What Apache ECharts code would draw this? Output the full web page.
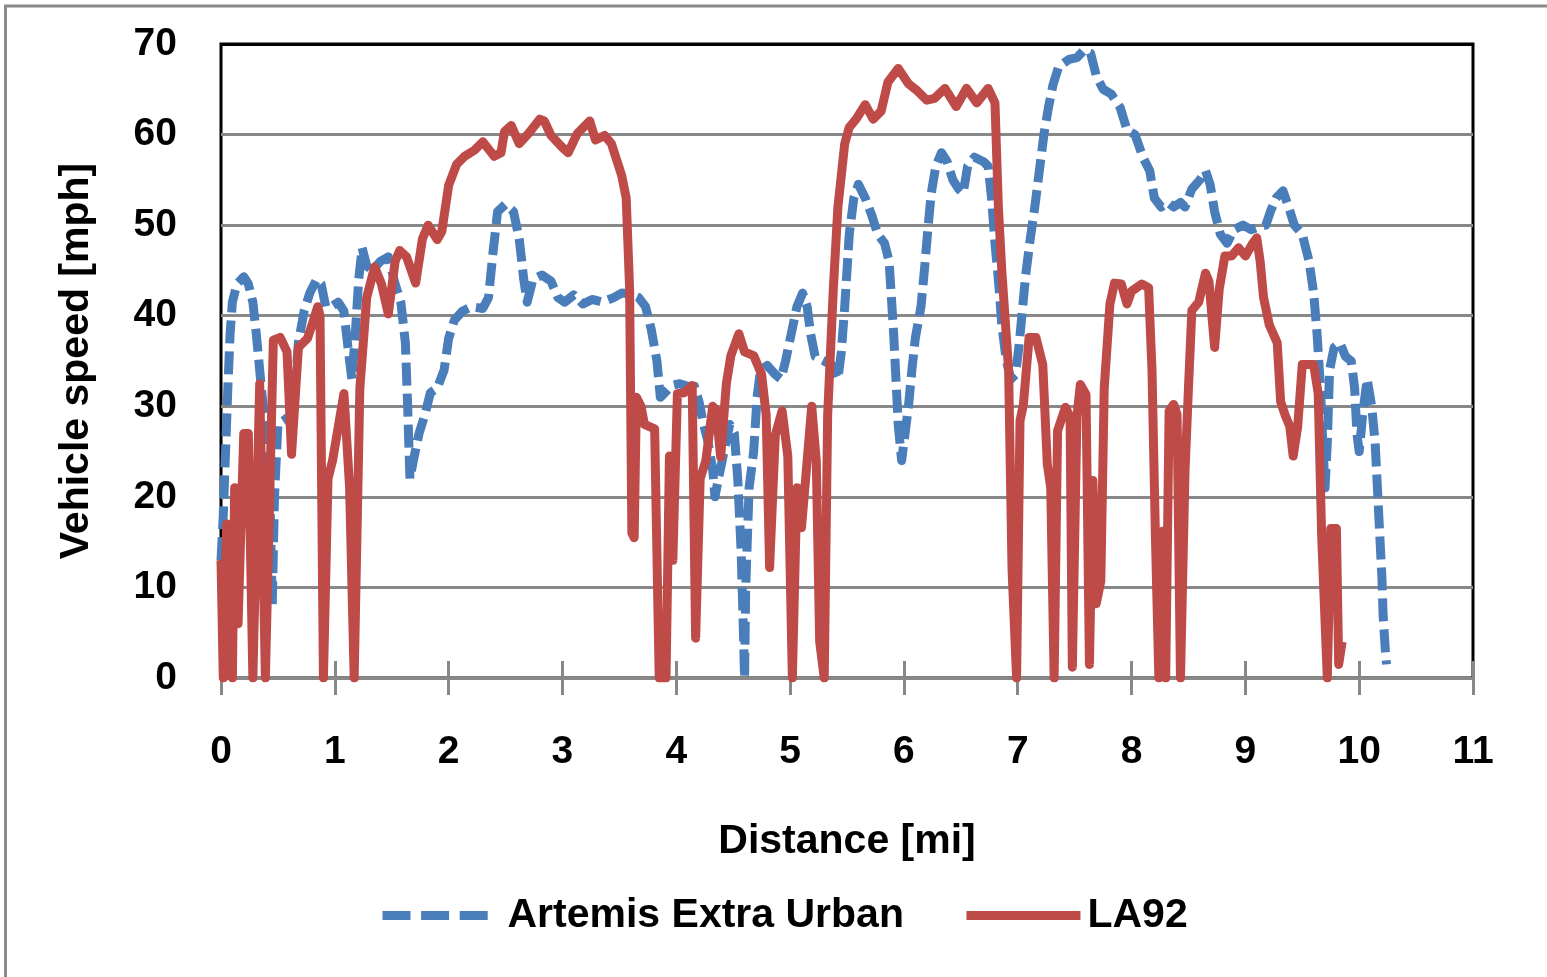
<!DOCTYPE html>
<html>
<head>
<meta charset="utf-8">
<script src="https://cdn.jsdelivr.net/npm/echarts@6/dist/echarts.min.js"></script>
<style>
html,body{margin:0;padding:0;background:#fff;}
#chart{width:1547px;height:977px;}
</style>
</head>
<body>
<div id="chart"></div>
<script>
// Artemis Extra Urban: distance [mi] and speed [mph]
const artDist = [0,0.02,0.04,0.06,0.08,0.1,0.14,0.2,0.24,0.28,0.31,0.34,0.37,0.42,0.45,0.47,0.5,0.56,0.61,0.65,0.68,0.73,0.78,0.84,0.88,0.92,0.97,1.03,1.08,1.12,1.15,1.18,1.21,1.24,1.28,1.33,1.4,1.47,1.53,1.58,1.62,1.64,1.66,1.69,1.74,1.79,1.84,1.9,1.96,2.0,2.05,2.12,2.2,2.3,2.35,2.39,2.43,2.5,2.57,2.62,2.66,2.69,2.74,2.82,2.9,2.96,3.02,3.1,3.18,3.26,3.35,3.45,3.52,3.6,3.67,3.73,3.78,3.83,3.86,3.9,3.96,4.03,4.1,4.16,4.2,4.24,4.28,4.32,4.34,4.37,4.42,4.47,4.51,4.54,4.57,4.59,4.6,4.61,4.64,4.68,4.71,4.74,4.8,4.87,4.92,4.96,5.01,5.06,5.11,5.15,5.18,5.22,5.3,5.37,5.42,5.45,5.48,5.5,5.52,5.56,5.6,5.66,5.72,5.77,5.83,5.87,5.89,5.91,5.93,5.95,5.98,6.01,6.04,6.07,6.1,6.15,6.18,6.21,6.24,6.28,6.33,6.38,6.43,6.48,6.52,6.56,6.62,6.7,6.74,6.77,6.8,6.83,6.86,6.9,6.94,6.98,7.01,7.04,7.07,7.11,7.15,7.19,7.23,7.27,7.31,7.36,7.45,7.52,7.58,7.64,7.69,7.75,7.82,7.9,7.96,8.03,8.1,8.16,8.2,8.26,8.32,8.37,8.43,8.47,8.53,8.6,8.65,8.69,8.73,8.78,8.84,8.9,8.98,9.05,9.12,9.18,9.22,9.27,9.33,9.38,9.43,9.5,9.56,9.6,9.63,9.66,9.68,9.7,9.72,9.74,9.78,9.83,9.88,9.93,9.96,9.98,10.0,10.03,10.07,10.11,10.14,10.16,10.18,10.2,10.21,10.23,10.24];
const artSpeed = [13,18,25,32,38,41.5,43.5,44.3,43.5,41.5,38,34,30,26,8,20,28,28.5,29,32,37,40.5,42.5,44,43.5,41,41,41.5,40.5,36,33,38,44,47.5,45.5,45,46,46.5,43.5,41.5,37,30,22,24,27,29,31.5,32,34,37.5,39.5,40.5,41,40.8,42,47,51.5,52.3,51.5,48.5,44,41.5,44,44.5,43.8,42,41.5,42.3,41.3,41.8,41.5,42,42.5,42.4,42,41,38.5,35,31,31.5,32.3,32.5,32.2,32.2,30.5,28,26,23,20,22,25,28,27,22,14,5,0,10,21,25,31,34,34.5,33.5,33,35,38,41,42.5,41,38,35.5,35,34.5,33,36,41,45,49,53,54.5,53,51,49,48,46,42,38,33,28,24,27,30,34,37.5,41,45,49.5,53.5,56.5,58,57,55,54,53.5,56.5,57.5,57,56.5,53,48,44,39,35,33,33.5,36.5,40.5,44.5,48.5,52,56,60,63,65.5,67.5,68.3,68.5,69.3,69,66.5,65,64.5,63,60.5,60,57.5,56,53,52,52.5,52,52.5,52,54,55,56,54.5,51.5,49,48,49.5,50,49.5,49.8,50,51.5,53,53.8,52,50,49,46,42.5,38,32,26,21,26,34,36.5,37,35.5,35,32,27,25,29,33,30,26,21,16,11,7,3,1.5];

// LA92: distance [mi] and speed [mph]
const laDist = [0,0.02,0.05,0.1,0.12,0.15,0.2,0.24,0.28,0.34,0.39,0.46,0.52,0.58,0.62,0.68,0.76,0.8,0.85,0.87,0.9,0.94,0.98,1.08,1.13,1.17,1.22,1.28,1.35,1.41,1.47,1.53,1.57,1.63,1.71,1.77,1.82,1.9,1.94,2.0,2.07,2.14,2.23,2.3,2.4,2.46,2.49,2.55,2.62,2.7,2.8,2.84,2.9,2.99,3.05,3.13,3.24,3.29,3.37,3.43,3.52,3.56,3.59,3.61,3.63,3.65,3.69,3.72,3.81,3.85,3.91,3.94,3.97,4.01,4.07,4.14,4.17,4.21,4.26,4.32,4.35,4.39,4.44,4.48,4.55,4.6,4.68,4.75,4.79,4.82,4.87,4.93,4.98,5.02,5.06,5.1,5.14,5.19,5.23,5.26,5.3,5.33,5.38,5.42,5.48,5.52,5.58,5.66,5.73,5.8,5.86,5.95,6.04,6.12,6.2,6.27,6.36,6.46,6.55,6.64,6.74,6.8,6.83,6.86,6.92,6.95,6.99,7.02,7.05,7.1,7.16,7.22,7.26,7.29,7.32,7.35,7.42,7.46,7.48,7.52,7.55,7.6,7.63,7.66,7.69,7.73,7.76,7.81,7.85,7.91,7.96,8.0,8.09,8.15,8.18,8.21,8.24,8.27,8.3,8.33,8.37,8.4,8.43,8.47,8.5,8.53,8.59,8.65,8.68,8.73,8.77,8.82,8.88,8.94,9.0,9.06,9.1,9.13,9.16,9.21,9.28,9.31,9.35,9.39,9.42,9.46,9.5,9.6,9.64,9.67,9.72,9.75,9.8,9.82,9.85];
const laSpeed = [13,0,17,0,21,6,27,27,0,32.5,0,37.3,37.6,36,24.7,36.5,37.5,39,41,40,0,22,24,31.4,21,0,32,42,45.4,43.5,40.2,46,47.2,46.5,43.6,48.5,50,48.4,49.3,54.4,56.7,57.6,58.3,59.2,57.6,58,60.3,61,59,60.1,61.7,61.5,59.9,58.7,58,60.1,61.5,59.4,59.9,59,55.5,53,43,16,15.5,31,30,28,27.5,0,0,24.5,13,31.4,31.5,32.3,4.4,22,24,30,29.6,24.4,32.5,35.6,38,36,35.6,33.5,29,12.2,26.8,29.5,24.5,0,21,16.6,22.5,30,24,4,0,29,43,52,59,60.8,61.7,63.3,61.7,62.6,65.8,67.3,65.6,64.8,63.8,64,65.1,63.1,65.1,63.5,65.1,63.5,52,45,34,12,0,28.4,30.2,37.6,37.6,34.6,23.6,21,0,27.3,29.9,28.8,1.2,28.8,32.4,31.3,1.5,21.8,8.2,10.7,32,41.3,43.6,43.5,41.3,42.7,43.5,43.1,33.9,15.5,0,16.2,0,29.5,30.2,29.1,0,22.9,32,40.6,41.5,44.7,43.8,36.5,42.9,46.6,46.6,47.5,46.6,47.9,48.6,46,42,39,37,30.5,29,27.8,24.5,27.8,34.6,34.6,31.4,15.8,0,16.5,16.5,1.5,4];

const seriesNames = ['Artemis Extra Urban', 'LA92'];
const yTicks = {min: 0, max: 70, step: 10};
const xTicks = {min: 0, max: 11, step: 1};

const FONT = "'Liberation Sans', Arial, sans-serif";
const BLUE = '#4A7EBB';
const RED = '#BE4B48';
const GRID = '#888888';

const chart = echarts.init(document.getElementById('chart'), null, {renderer: 'canvas'});

const tickStyle = {fontFamily: FONT, fontWeight: 'bold', fontSize: 39, color: '#000'};
const textStyle = {fontFamily: FONT, fontWeight: 'bold', fontSize: 41, color: '#000'};

chart.setOption({
  animation: false,
  backgroundColor: '#ffffff',
  graphic: [{
    type: 'rect', z: 100, silent: true,
    shape: {x: 5.5, y: 6, width: 1700, height: 1200},
    style: {fill: 'none', stroke: '#8a8a8a', lineWidth: 3}
  }],
  grid: {left: 221, right: 74, top: 44, bottom: 299, show: true, borderColor: '#000', borderWidth: 3, containLabel: false},
  legend: {
    left: 373, top: 890,
    itemWidth: 114, itemHeight: 9, itemGap: 58,
    textStyle: textStyle,
    data: [
      {name: seriesNames[0], textStyle: {padding: [0, 0, 0, 6]}, lineStyle: {width: 9, type: [28, 10.6], color: BLUE}},
      {name: seriesNames[1], textStyle: {padding: [0, 0, 0, 2]}, lineStyle: {width: 9, color: RED}}
    ]
  },
  xAxis: [{
    type: 'value', min: xTicks.min, max: xTicks.max, interval: xTicks.step,
    position: 'bottom',
    name: 'Distance [mi]', nameLocation: 'middle', nameGap: 143,
    nameTextStyle: textStyle,
    axisLine: {show: true, onZero: false, lineStyle: {color: GRID, width: 3}},
    axisTick: {show: true, inside: false, length: 17, lineStyle: {color: GRID, width: 3}},
    axisLabel: Object.assign({margin: 55}, tickStyle),
    splitLine: {show: false}
  }, {
    type: 'value', min: xTicks.min, max: xTicks.max, interval: xTicks.step,
    position: 'bottom',
    axisLine: {show: false},
    axisTick: {show: true, inside: true, length: 17, lineStyle: {color: GRID, width: 3}},
    axisLabel: {show: false},
    splitLine: {show: false}
  }],
  yAxis: {
    type: 'value', min: yTicks.min, max: yTicks.max, interval: yTicks.step,
    name: 'Vehicle speed [mph]', nameLocation: 'middle', nameGap: 124,
    nameTextStyle: textStyle,
    axisLine: {show: false},
    axisTick: {show: false},
    axisLabel: Object.assign({margin: 44}, tickStyle),
    splitLine: {show: true, lineStyle: {color: [GRID, GRID, GRID, GRID, GRID, GRID, GRID, '#000'], width: 3}}
  },
  series: [{
    name: seriesNames[0], type: 'line', symbol: 'none', smooth: false,
    data: artDist.map((d, i) => [d, artSpeed[i]]),
    lineStyle: {color: BLUE, width: 9, type: [23, 8], cap: 'butt', join: 'round'},
    itemStyle: {color: BLUE}
  }, {
    name: seriesNames[1], type: 'line', symbol: 'none', smooth: false,
    data: laDist.map((d, i) => [d, laSpeed[i]]),
    lineStyle: {color: RED, width: 9, type: 'solid', cap: 'butt', join: 'round'},
    itemStyle: {color: RED}
  }]
});
</script>
</body>
</html>
